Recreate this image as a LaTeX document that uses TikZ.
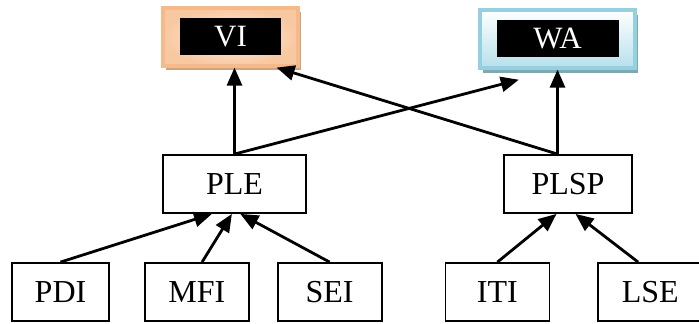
\documentclass[tikz,border=0pt]{standalone}
\usepackage{fontspec}
\setmainfont{Liberation Serif}
\usetikzlibrary{arrows.meta, positioning, calc, shadows}

\definecolor{viedge}{RGB}{244,186,140}
\definecolor{viin}{RGB}{254,240,228}
\definecolor{viout}{RGB}{248,200,160}
\definecolor{vishade}{RGB}{208,163,124}
\definecolor{waedge}{RGB}{150,207,222}
\definecolor{wabot}{RGB}{182,224,235}
\definecolor{washade}{RGB}{128,168,178}

\begin{document}
\begin{tikzpicture}[
  x=0.5pt, y=0.5pt,
  box/.style    = {rectangle, draw=black, line width=0.9pt, minimum width=52pt,
                   minimum height=29pt, inner sep=0pt,
                   font=\fontsize{16}{19}\selectfont},
  topbox/.style = {rectangle, line width=1.6pt, minimum height=29pt, inner sep=0pt},
  tag/.style    = {rectangle, fill=black, text=white, inner sep=0pt,
                   minimum height=18.5pt, font=\fontsize{15.5}{18}\selectfont},
  arrow/.style  = {-{Triangle[length=9pt,width=7.5pt]}, line width=1.4pt},
]
  \useasboundingbox (0,0) rectangle (699,324);

  % top row
  \node[topbox, draw=viedge, inner color=viin, outer color=viout, minimum width=67.5pt,
        drop shadow={shadow xshift=1.5pt, shadow yshift=-2pt, fill=vishade, opacity=1}]
        (vi) at (230.5,287) {};
  \node[tag, minimum width=50.5pt] (vitag) at (vi) {VI};
  \node[topbox, draw=waedge, top color=white, bottom color=wabot, minimum width=77.5pt,
        drop shadow={shadow xshift=1.5pt, shadow yshift=-2.5pt, fill=washade, opacity=1}]
        (wa) at (557.5,285) {};
  \node[tag, minimum width=61pt] (watag) at (wa) {WA};

  % middle row
  \node[box, minimum width=71.5pt] (ple)  at (234.5,140) {PLE};
  \node[box, minimum width=64pt]   (plsp) at (568,140)   {PLSP};

  % bottom row
  \node[box, minimum width=48.5pt] (pdi) at (60.5,32) {PDI};
  \node[box, right=17pt of pdi]    (mfi) {MFI};
  \node[box, right=13.5pt of mfi]  (sei) {SEI};
  \node[box, right=31pt of sei]    (iti) {ITI};
  \node[box, right=23.5pt of iti]  (lse) {LSE};

  \draw[arrow] (pdi.north) -- (ple.233);
  \draw[arrow] (mfi.80)    -- (ple.265);
  \draw[arrow] (sei.north) -- (ple.281);
  \draw[arrow] (iti.north) -- (plsp.249);
  \draw[arrow] (lse.112)   -- (plsp.284);

  \draw[arrow] (ple.north) -- (ple.north |- vi.south);
  \draw[arrow, shorten >=20pt] (ple.north) -- (wa.south);
  \draw[arrow] (wa.south |- plsp.north) -- (wa.south);
  \draw[arrow] (wa.south |- plsp.north) -- ($(vi.south)+(46,0)$);
\end{tikzpicture}
\end{document}
